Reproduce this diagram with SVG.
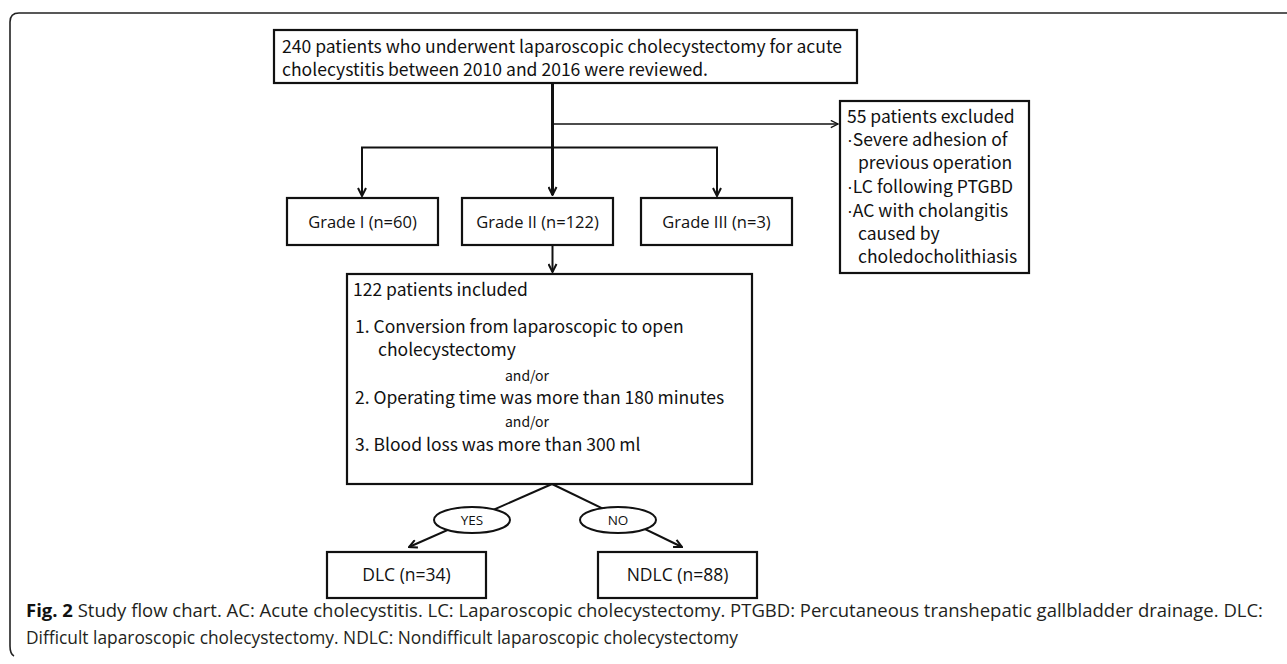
<svg xmlns="http://www.w3.org/2000/svg" width="1287" height="664" viewBox="0 0 1287 664">
<style>
.box{fill:#fff;stroke:#111;stroke-width:2.2}
.jt{font-family:"Noto Sans CJK JP","Noto Sans",sans-serif;font-size:17.5px;fill:#111}
.bu{font-family:"Liberation Sans",sans-serif}
.ct{font-family:"Open Sans","Lato",sans-serif;font-size:16.5px;fill:#111;text-anchor:middle}
.ln{fill:none;stroke:#111}
.cap{font-family:"Open Sans","Lato",sans-serif;font-size:18px;fill:#231f20}
</style>
<defs>
<marker id="ah" viewBox="0 0 10 10" refX="9" refY="5" markerWidth="10" markerHeight="10" markerUnits="userSpaceOnUse" orient="auto">
<polyline points="1,1 9,5 1,9" fill="none" stroke="#111" stroke-width="2"/>
</marker>
<marker id="ahs" viewBox="0 0 10 10" refX="9" refY="5" markerWidth="9" markerHeight="9" markerUnits="userSpaceOnUse" orient="auto">
<polyline points="1,1 9,5 1,9" fill="none" stroke="#111" stroke-width="1.5"/>
</marker>
</defs>
<rect width="1287" height="664" fill="#fff"/>
<path d="M1290 13 H19 Q10 13 10 22 V646 Q10 654 14 656" fill="none" stroke="#222" stroke-width="1.6"/>

<g id="connectors">
<line class="ln" x1="552.5" y1="83" x2="552.5" y2="195" stroke-width="3" marker-end="url(#ah)"/>
<line class="ln" x1="552.5" y1="124" x2="838" y2="124" stroke-width="1.5" marker-end="url(#ahs)"/>
<polyline class="ln" points="552.5,147.5 717,147.5 717,196" stroke-width="2" marker-end="url(#ah)"/>
<polyline class="ln" points="552.5,147.5 362,147.5 362,196" stroke-width="2" marker-end="url(#ah)"/>
<line class="ln" x1="552.5" y1="245" x2="552.5" y2="272" stroke-width="2" marker-end="url(#ah)"/>
<line class="ln" x1="552" y1="484" x2="409" y2="547" stroke-width="2" marker-end="url(#ah)"/>
<line class="ln" x1="552" y1="484" x2="682" y2="547" stroke-width="2" marker-end="url(#ah)"/>
</g>

<g id="n_top">
<rect class="box" x="274" y="30" width="583" height="53"/>
<text class="jt" x="282" y="53" textLength="560" lengthAdjust="spacingAndGlyphs">240 patients who underwent laparoscopic cholecystectomy for acute</text>
<text class="jt" x="282" y="76" textLength="426" lengthAdjust="spacingAndGlyphs">cholecystitis between 2010 and 2016 were reviewed.</text>
</g>

<g id="n_excluded">
<rect class="box" x="840" y="101" width="189" height="172" stroke-width="1.6"/>
<text class="jt" x="847" y="123">55 patients excluded</text>
<text class="jt" x="847" y="146"><tspan class="bu">·</tspan>Severe adhesion of</text>
<text class="jt" x="858" y="169">previous operation</text>
<text class="jt" x="847" y="193"><tspan class="bu">·</tspan>LC following PTGBD</text>
<text class="jt" x="847" y="217"><tspan class="bu">·</tspan>AC with cholangitis</text>
<text class="jt" x="858" y="240">caused by</text>
<text class="jt" x="858" y="263">choledocholithiasis</text>
</g>

<g id="n_grade1">
<rect class="box" x="287" y="198" width="151" height="47"/>
<text class="ct" x="362.5" y="228">Grade I (n=60)</text>
</g>
<g id="n_grade2">
<rect class="box" x="462" y="198" width="151" height="47"/>
<text class="ct" x="537.5" y="228">Grade II (n=122)</text>
</g>
<g id="n_grade3">
<rect class="box" x="641" y="198" width="151" height="47"/>
<text class="ct" x="716.5" y="228">Grade III (n=3)</text>
</g>

<g id="n_included">
<rect class="box" x="347" y="274" width="405" height="210"/>
<text class="jt" x="353" y="296">122 patients included</text>
<text class="jt" x="355" y="333">1. Conversion from laparoscopic to open</text>
<text class="jt" x="378" y="356">cholecystectomy</text>
<text class="jt" x="527" y="381" text-anchor="middle" style="font-size:14px">and/or</text>
<text class="jt" x="355" y="404">2. Operating time was more than 180 minutes</text>
<text class="jt" x="527" y="427" text-anchor="middle" style="font-size:14px">and/or</text>
<text class="jt" x="355" y="451">3. Blood loss was more than 300 ml</text>
</g>

<g id="n_yes">
<ellipse cx="472" cy="520" rx="38" ry="13" fill="#fff" stroke="#111" stroke-width="2"/>
<text class="ct" x="472" y="525" style="font-size:13.5px">YES</text>
</g>
<g id="n_no">
<ellipse cx="618" cy="520" rx="38" ry="13" fill="#fff" stroke="#111" stroke-width="2"/>
<text class="ct" x="618" y="525" style="font-size:13.5px">NO</text>
</g>

<g id="n_dlc">
<rect class="box" x="327" y="552" width="159" height="46"/>
<text class="ct" x="406.5" y="581" style="font-size:17.5px">DLC (n=34)</text>
</g>
<g id="n_ndlc">
<rect class="box" x="598" y="552" width="159" height="46"/>
<text class="ct" x="677.5" y="581" style="font-size:17.5px">NDLC (n=88)</text>
</g>

<g id="caption">
<text class="cap" x="26" y="617" textLength="1237" lengthAdjust="spacingAndGlyphs"><tspan font-weight="bold" fill="#111">Fig. 2</tspan> Study flow chart. AC: Acute cholecystitis. LC: Laparoscopic cholecystectomy. PTGBD: Percutaneous transhepatic gallbladder drainage. DLC:</text>
<text class="cap" x="26" y="644" textLength="712" lengthAdjust="spacingAndGlyphs">Difficult laparoscopic cholecystectomy. NDLC: Nondifficult laparoscopic cholecystectomy</text>
</g>
</svg>
